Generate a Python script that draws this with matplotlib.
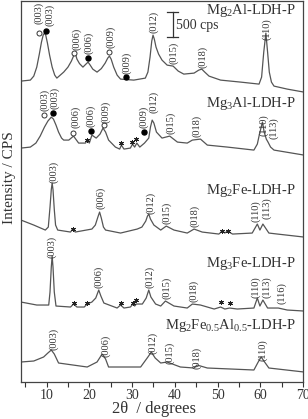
import matplotlib
matplotlib.use('Agg')
import matplotlib.pyplot as plt

# Traces: 2-theta (degrees) and stacked intensity (cps)
mg2al_2theta = [4.0, 6.2, 7.0, 7.7, 8.3, 8.8, 9.2, 9.5, 9.8, 10.2, 10.7, 11.3, 11.9, 12.4, 14.0, 15.0,
                15.8, 16.4, 16.7, 17.1, 17.7, 18.5, 19.2, 19.7, 20.2, 20.8, 21.8, 22.8, 23.7, 24.3,
                24.7, 25.1, 25.7, 26.5, 27.3, 30.4, 33.1, 33.7, 34.2, 34.6, 34.9, 35.2, 35.6, 36.2,
                37.0, 38.2, 39.6, 40.8, 42.1, 44.5, 45.6, 46.3, 47.0, 48.0, 50.7, 55.4, 59.7, 60.3,
                60.8, 61.3, 61.7, 62.1, 62.6, 63.2, 66.3, 70.2]
mg2al_int = [6020, 6040, 6120, 6300, 6560, 6800, 6940, 6980, 6940, 6780, 6540, 6300, 6140, 6080, 6200, 6300,
             6420, 6540, 6580, 6460, 6370, 6300, 6360, 6400, 6340, 6260, 6200, 6270, 6380, 6480,
             6520, 6460, 6300, 6140, 6060, 6040, 6080, 6200, 6500, 6820, 6940, 6860, 6700, 6560,
             6440, 6340, 6320, 6220, 6160, 6180, 6240, 6260, 6200, 6120, 6040, 6000, 5960, 6100,
             6600, 6980, 6600, 6200, 6000, 5920, 5860, 5800]

mg3al_2theta = [4.0, 6.2, 7.5, 8.5, 9.5, 10.3, 11.1, 11.6, 12.2, 12.8, 13.5, 14.0, 15.2, 16.3, 17.5, 19.1,
                19.5, 20.0, 20.6, 21.6, 22.5, 23.2, 23.8, 24.5, 26.1, 27.1, 27.5, 28.1, 29.6, 30.1,
                30.6, 31.1, 31.8, 32.9, 33.9, 34.3, 34.7, 35.1, 35.7, 37.0, 38.8, 40.6, 42.9, 44.1,
                46.0, 47.6, 52.3, 58.5, 59.3, 59.8, 60.5, 60.9, 61.4, 61.8, 62.4, 63.2, 70.2]
mg3al_int = [4680, 4700, 4780, 4920, 5100, 5220, 5300, 5260, 5140, 5000, 4880, 4840, 4840, 4920, 4780, 4780,
             4840, 4780, 4940, 4880, 4960, 5080, 5000, 4840, 4700, 4660, 4740, 4660, 4680, 4760,
             4700, 4780, 4700, 4780, 4880, 5100, 5240, 5180, 5000, 4880, 4920, 4800, 4780, 4840,
             4860, 4740, 4700, 4640, 4760, 4960, 5200, 5000, 4860, 4800, 4700, 4640, 4540]

mg2fe_2theta = [4.0, 7.0, 9.7, 10.4, 10.8, 11.1, 11.3, 11.5, 11.8, 12.1, 12.6, 15.6, 16.1, 16.7, 20.6,
                21.4, 22.0, 22.4, 22.8, 23.3, 23.8, 27.3, 31.2, 32.3, 33.2, 33.6, 33.9, 34.3, 35.1,
                36.7, 38.0, 39.8, 42.9, 44.5, 46.4, 50.3, 51.1, 51.7, 52.3, 53.5, 58.1, 59.3, 59.9,
                60.6, 62.0, 64.0, 70.2]
mg2fe_int = [3240, 3140, 3040, 3100, 3500, 3850, 3980, 3850, 3450, 3140, 3040, 3000, 3060, 3000, 3060,
             3140, 3300, 3400, 3280, 3100, 3040, 2980, 3060, 3100, 3220, 3320, 3360, 3260, 3140,
             3040, 3120, 3040, 2980, 3060, 3000, 2960, 3020, 2980, 3020, 2960, 2980, 3160, 3040,
             3160, 2980, 2960, 2900]

mg3fe_2theta = [4.0, 7.7, 10.5, 10.8, 11.1, 11.3, 11.5, 11.8, 12.2, 15.6, 16.3, 17.1, 18.8, 19.5, 20.6,
                21.5, 22.2, 22.7, 23.4, 26.5, 27.3, 28.1, 29.6, 30.2, 30.6, 31.0, 32.4, 33.3, 33.9,
                34.4, 35.5, 36.7, 37.8, 39.8, 42.9, 44.1, 46.0, 49.2, 50.7, 51.7, 52.8, 54.6, 58.5,
                59.3, 59.9, 60.6, 61.7, 64.2, 66.3, 70.2]
mg3fe_int = [1600, 1540, 1540, 1800, 2300, 2520, 2300, 1800, 1520, 1500, 1560, 1500, 1500, 1560, 1600,
             1680, 1840, 1720, 1580, 1480, 1540, 1480, 1500, 1560, 1520, 1560, 1560, 1680, 1840,
             1700, 1560, 1520, 1620, 1520, 1480, 1560, 1540, 1460, 1500, 1460, 1480, 1460, 1480,
             1680, 1520, 1640, 1480, 1480, 1440, 1420]

mgfeal_2theta = [4.0, 7.0, 9.3, 10.3, 11.1, 11.8, 12.8, 19.5, 21.8, 23.0, 23.8, 24.5, 32.0, 33.7, 34.5,
                 35.4, 36.7, 38.2, 41.3, 44.5, 45.2, 47.6, 58.5, 59.5, 60.2, 61.0, 62.0, 70.2]
mgfeal_int = [400, 420, 500, 580, 640, 560, 380, 300, 400, 560, 460, 300, 300, 500, 600,
              480, 380, 400, 300, 280, 340, 280, 240, 400, 500, 400, 280, 200]

# Peak labels: (text, 2-theta, intensity)
mg2al_hkl = [('(003)', 8.1, 7380), ('(003)', 10.7, 7340), ('(006)', 17.0, 6860), ('(006)', 19.8, 6780),
             ('(009)', 24.9, 6900), ('(009)', 28.8, 6380), ('(012)', 35.1, 7200), ('(015)', 39.8, 6580),
             ('(018)', 46.6, 6500), ('(110)', 61.5, 7060)]
mg3al_hkl = [('(003)', 9.5, 5640), ('(003)', 11.9, 5680), ('(006)', 16.7, 5300), ('(006)', 20.4, 5320),
             ('(009)', 23.8, 5400), ('(009)', 32.7, 5300), ('(012)', 35.1, 5600), ('(015)', 39.0, 5180),
             ('(018)', 45.2, 5120), ('(110)', 60.8, 5140), ('(113)', 63.1, 5080)]
mg2fe_hkl = [('(003)', 11.6, 4200), ('(006)', 22.6, 3680), ('(012)', 34.3, 3580), ('(015)', 38.2, 3380),
             ('(018)', 44.6, 3320), ('(110)', 59.0, 3420), ('(113)', 61.6, 3480)]
mg3fe_hkl = [('(003)', 11.3, 2700), ('(006)', 22.2, 2100), ('(012)', 34.1, 2100), ('(015)', 38.0, 1880),
             ('(018)', 44.5, 1820), ('(110)', 59.0, 1900), ('(113)', 61.6, 1900), ('(116)', 64.9, 1780)]
mgfeal_hkl = [('(003)', 11.6, 860), ('(006)', 23.8, 720), ('(012)', 34.9, 780), ('(015)', 38.8, 580),
              ('(018)', 45.1, 480), ('(110)', 60.6, 640)]

# Phase markers: open circles, filled circles and impurity stars
open_x = [8.3, 16.5, 24.7, 9.3, 16.1, 23.5]
open_y = [6980, 6580, 6600, 5340, 4980, 5140]
filled_x = [9.9, 19.8, 28.6, 11.6, 20.4, 32.7]
filled_y = [7020, 6480, 6100, 5380, 5020, 5000]
star_x = [19.5, 27.4, 29.9, 31.0, 16.1, 51.1, 52.4, 16.3, 19.5, 27.3, 30.2, 31.0, 50.9, 52.8]
star_y = [4840, 4780, 4800, 4860, 3060, 3020, 3020, 1580, 1580, 1580, 1580, 1640, 1600, 1580]

sample_names = [r'Mg$_\mathregular{2}$Al-LDH-P', r'Mg$_\mathregular{3}$Al-LDH-P',
                r'Mg$_\mathregular{2}$Fe-LDH-P', r'Mg$_\mathregular{3}$Fe-LDH-P',
                r'Mg$_\mathregular{2}$Fe$_\mathregular{0.5}$Al$_\mathregular{0.5}$-LDH-P']
sample_name_y = [7440, 5580, 3840, 2380, 1140]

LINE_COLOR = '#555555'
TEXT_COLOR = '#333333'
SERIF = 'Liberation Serif'


def plot():
    plt.rcParams['font.family'] = SERIF
    plt.rcParams['mathtext.fontset'] = 'custom'
    plt.rcParams['mathtext.rm'] = SERIF
    plt.rcParams['mathtext.it'] = SERIF + ':italic'

    fig = plt.figure(figsize=(3.08, 4.19), dpi=100)
    ax = fig.add_axes([0.068, 0.0883, 0.916, 0.909])

    traces = [(mg2al_2theta, mg2al_int), (mg3al_2theta, mg3al_int), (mg2fe_2theta, mg2fe_int),
              (mg3fe_2theta, mg3fe_int), (mgfeal_2theta, mgfeal_int)]
    for x, y in traces:
        ax.plot(x, y, color=LINE_COLOR, lw=0.9)

    for labels in [mg2al_hkl, mg3al_hkl, mg2fe_hkl, mg3fe_hkl, mgfeal_hkl]:
        for text, x, y in labels:
            ax.text(x, y, text, rotation=90, ha='center', va='center', fontsize=7.5, color=TEXT_COLOR)

    ax.plot(open_x, open_y, 'o', ms=3.6, mfc='white', mec='#333333', mew=0.7)
    ax.plot(filled_x, filled_y, 'o', ms=3.6, mfc='black', mec='black')
    ax.plot(star_x, star_y, ls='none', marker=(6, 2, 0), ms=3.5, mec='#222222', mew=0.7)

    for name, y in zip(sample_names, sample_name_y):
        ax.text(68.3, y, name, ha='right', va='center', fontsize=10.5, color=TEXT_COLOR)

    # 500 cps scale bar
    ax.plot([39.5, 39.5], [6900, 7400], color=TEXT_COLOR, lw=0.9)
    ax.plot([38.1, 40.8], [6900, 6900], color=TEXT_COLOR, lw=0.9)
    ax.plot([38.1, 40.8], [7400, 7400], color=TEXT_COLOR, lw=0.9)
    ax.text(40.3, 7140, '500 cps', ha='left', va='center', fontsize=10, color=TEXT_COLOR)

    ax.set_xlim(4, 70)
    ax.set_ylim(0, 7620)
    ax.set_xticks([10, 20, 30, 40, 50, 60, 70])
    ax.set_xticks([5, 15, 25, 35, 45, 55, 65], minor=True)
    ax.set_yticks([])
    ax.tick_params(axis='x', which='both', direction='out', length=3.5, width=0.8,
                   labelsize=10, colors=TEXT_COLOR, pad=1.5)
    for spine in ax.spines.values():
        spine.set_color('#444444')
        spine.set_linewidth(0.9)

    fig.text(0.5, 0.024, '2θ  / degrees', ha='center', va='center', fontsize=12, color=TEXT_COLOR)
    fig.text(0.032, 0.575, 'Intensity / CPS', rotation=90, ha='center', va='center',
             fontsize=11, color=TEXT_COLOR)

    fig.savefig('out.png', dpi=100)


def main():
    plot()


if __name__ == "__main__":
    main()
